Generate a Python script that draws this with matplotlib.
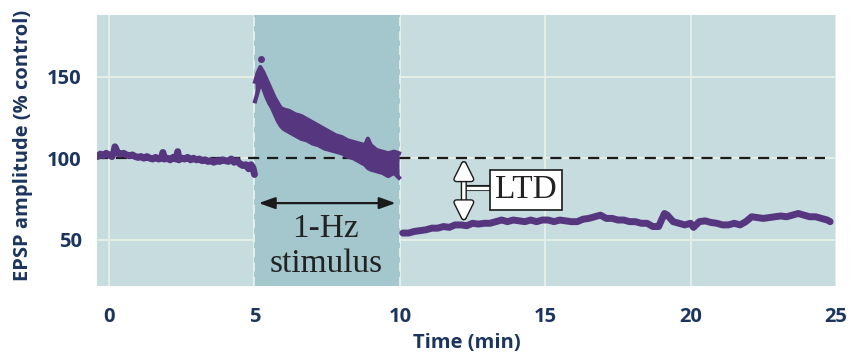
import matplotlib
matplotlib.use("Agg")
import matplotlib.pyplot as plt
import matplotlib.patheffects as pe
from matplotlib.patches import FancyArrowPatch

# baseline before stimulus (min, % control)
base_t = [-0.40, -0.30, -0.20, -0.10, 0.00, 0.10, 0.17, 0.20, 0.30, 0.40, 0.50, 0.60,
          0.70, 0.80, 0.90, 1.00, 1.10, 1.20, 1.30, 1.40, 1.50, 1.60, 1.70, 1.80,
          1.85, 1.90, 2.00, 2.10, 2.20, 2.30, 2.36, 2.40, 2.50, 2.60, 2.70, 2.80,
          2.90, 3.00, 3.10, 3.20, 3.30, 3.40, 3.50, 3.60, 3.70, 3.80, 3.90, 4.00,
          4.10, 4.20, 4.30, 4.40, 4.50, 4.60, 4.70, 4.80, 4.88, 4.95, 5.00]
base_v = [101.0, 102.5, 101.5, 103.0, 102.0, 101.0, 104.0, 107.0, 103.0, 102.5, 103.0, 102.0,
          101.5, 102.0, 101.0, 100.5, 101.0, 100.0, 101.0, 100.0, 99.5, 100.5, 99.5, 100.0,
          103.5, 99.5, 100.0, 99.0, 100.5, 99.5, 104.0, 99.0, 100.0, 99.5, 100.5, 99.0,
          100.0, 99.0, 99.5, 98.5, 99.0, 98.0, 98.5, 97.5, 98.5, 98.0, 99.0, 98.5,
          98.0, 99.5, 97.5, 98.5, 96.5, 95.5, 96.0, 93.5, 96.0, 94.0, 90.0]

# during 1-Hz stimulation: upper / lower edge of the trace
stim_t = [5.02, 5.10, 5.20, 5.30, 5.40, 5.50, 5.60, 5.70, 5.80, 5.90, 6.00, 6.20,
          6.40, 6.60, 6.80, 7.00, 7.20, 7.40, 7.60, 7.80, 8.00, 8.20, 8.40, 8.60,
          8.80, 8.90, 9.00, 9.20, 9.40, 9.60, 9.80, 9.97]
stim_hi = [147, 152, 156, 153, 149, 145, 141, 137, 134, 131, 130, 129,
           127, 126, 124, 122, 120, 118, 116, 114, 113, 111, 110, 109,
           108, 112, 108, 105, 104, 103, 104, 103]
stim_lo = [135, 140, 146, 143, 138, 134, 131, 127, 123, 120, 118, 116,
           114, 112, 111, 109, 108, 106, 105, 104, 103, 101, 100, 98,
           96, 94, 93, 92, 91, 89, 91, 88]
spike_t, spike_v = 5.22, 161

# after stimulation
post_t = [10.10, 10.30, 10.50, 10.70, 10.90, 11.10, 11.30, 11.50, 11.70, 11.90, 12.10, 12.30,
          12.50, 12.70, 12.90, 13.10, 13.30, 13.50, 13.70, 13.90, 14.10, 14.30, 14.50, 14.70,
          14.90, 15.10, 15.30, 15.50, 15.70, 15.90, 16.10, 16.30, 16.50, 16.70, 16.90, 17.10,
          17.30, 17.50, 17.70, 17.90, 18.10, 18.30, 18.50, 18.70, 18.90, 19.10, 19.20, 19.40,
          19.60, 19.80, 20.00, 20.10, 20.30, 20.50, 20.70, 20.90, 21.10, 21.30, 21.50, 21.70,
          21.90, 22.10, 22.30, 22.50, 22.70, 22.90, 23.10, 23.30, 23.50, 23.70, 23.90, 24.10,
          24.30, 24.50, 24.70, 24.80]
post_v = [54.0, 54.0, 55.0, 55.5, 56.0, 57.0, 57.0, 58.0, 57.5, 59.0, 59.0, 58.5,
          60.0, 59.5, 60.0, 60.0, 61.0, 62.0, 61.0, 62.0, 61.5, 61.0, 62.0, 61.0,
          62.0, 62.0, 61.0, 62.0, 61.5, 61.0, 61.0, 62.5, 63.0, 64.0, 65.0, 63.0,
          63.0, 62.0, 62.0, 61.0, 61.0, 60.0, 60.0, 58.0, 58.0, 66.0, 65.0, 61.0,
          60.0, 59.0, 60.0, 57.5, 61.0, 61.5, 60.5, 60.0, 59.0, 59.0, 60.0, 59.0,
          61.0, 64.0, 63.5, 63.0, 63.5, 64.0, 64.5, 64.0, 65.0, 66.0, 65.0, 64.0,
          64.0, 63.0, 62.0, 61.0]

xticks = [0, 5, 10, 15, 20, 25]
yticks = [50, 100, 150]

bg = "#c6dcdf"
stim_bg = "#a4c7cd"
grid_c = "#e3eee5"
purple = "#56377f"
navy = "#1c355e"

fig = plt.figure(figsize=(8.5, 3.53), dpi=100)
ax = fig.add_axes([0.114, 0.19, 0.8695, 0.7675])
ax.set_facecolor(bg)
ax.set_xlim(-0.42, 25.0)
ax.set_ylim(21.5, 188)

# grid
for x in xticks:
    ax.axvline(x, color=grid_c, lw=1.5, zorder=0.5)
for y in yticks:
    ax.axhline(y, color=grid_c, lw=1.5, zorder=0.5)

# stimulus period
ax.axvspan(5, 10, color=stim_bg, zorder=1, lw=0)
ax.axvline(5, color="#e8f0ec", lw=1.3, ls=(0, (5, 3)), zorder=1.2)
ax.axvline(10, color="#e8f0ec", lw=1.3, ls=(0, (5, 3)), zorder=1.2)

# control level
ax.axhline(100, color="#1a1a1a", lw=1.6, ls=(0, (5, 3.5)), xmax=0.985, zorder=2)

# traces
ax.plot(base_t, base_v, color=purple, lw=5, solid_capstyle="round",
        solid_joinstyle="round", zorder=3)
ax.fill_between(stim_t, stim_lo, stim_hi, color=purple, lw=0, zorder=3)
ax.plot(stim_t, stim_hi, color=purple, lw=3, solid_joinstyle="round", zorder=3)
ax.plot(stim_t, stim_lo, color=purple, lw=3, solid_joinstyle="round", zorder=3)
ax.plot([spike_t], [spike_v], "o", color=purple, ms=4, zorder=3)
ax.plot(post_t, post_v, color=purple, lw=5, solid_capstyle="round",
        solid_joinstyle="round", zorder=3)

# 1-Hz stimulus arrow and label
ax.add_patch(FancyArrowPatch((5.05, 72.4), (9.95, 72.4), arrowstyle="<|-|>,head_length=0.7,head_width=0.25",
                             mutation_scale=14, color="#1a1a1a", lw=1.6, zorder=4))
ax.text(7.45, 56.5, "1-Hz", ha="center", va="center", fontsize=24,
        family="Liberation Serif", color="#222222", zorder=4)
ax.text(7.45, 35.0, "stimulus", ha="center", va="center", fontsize=24,
        family="Liberation Serif", color="#222222", zorder=4)

# LTD marker
outline = [pe.Stroke(linewidth=4.4, foreground="#1a1a1a"), pe.Normal()]
ax.plot([12.2, 13.3], [81.6, 81.6], color="white", lw=2.4, zorder=4,
        path_effects=outline)
ax.add_patch(FancyArrowPatch((12.2, 100.3), (12.2, 59.7), arrowstyle="<|-|>,head_length=0.9,head_width=0.45",
                             mutation_scale=12, facecolor="white", edgecolor="white", lw=2.4,
                             zorder=5, path_effects=outline))
ax.text(14.35, 80.4, "LTD", ha="center", va="center", fontsize=24,
        family="Liberation Serif", color="#222222", zorder=6,
        bbox=dict(boxstyle="square,pad=0.15", fc="white", ec="#1a1a1a", lw=1.2))

# axes styling
for s in ax.spines.values():
    s.set_visible(False)
ax.set_xticks(xticks)
ax.set_yticks(yticks)
ax.tick_params(length=0, pad=15, labelsize=14.5, labelcolor=navy)
ax.tick_params(axis="y", pad=11)
for lab in ax.get_xticklabels() + ax.get_yticklabels():
    lab.set_family("Open Sans")
    lab.set_fontweight("bold")

ax.set_xlabel("Time (min)", fontsize=14.5, fontweight="bold", color=navy, family="Open Sans")
ax.set_ylabel("EPSP amplitude (% control)", fontsize=14.5, fontweight="bold", color=navy,
              family="Open Sans")
ax.xaxis.set_label_coords(0.5, -0.175)
ax.yaxis.set_label_coords(-0.087, 0.517)

fig.savefig("out.png", dpi=100)
